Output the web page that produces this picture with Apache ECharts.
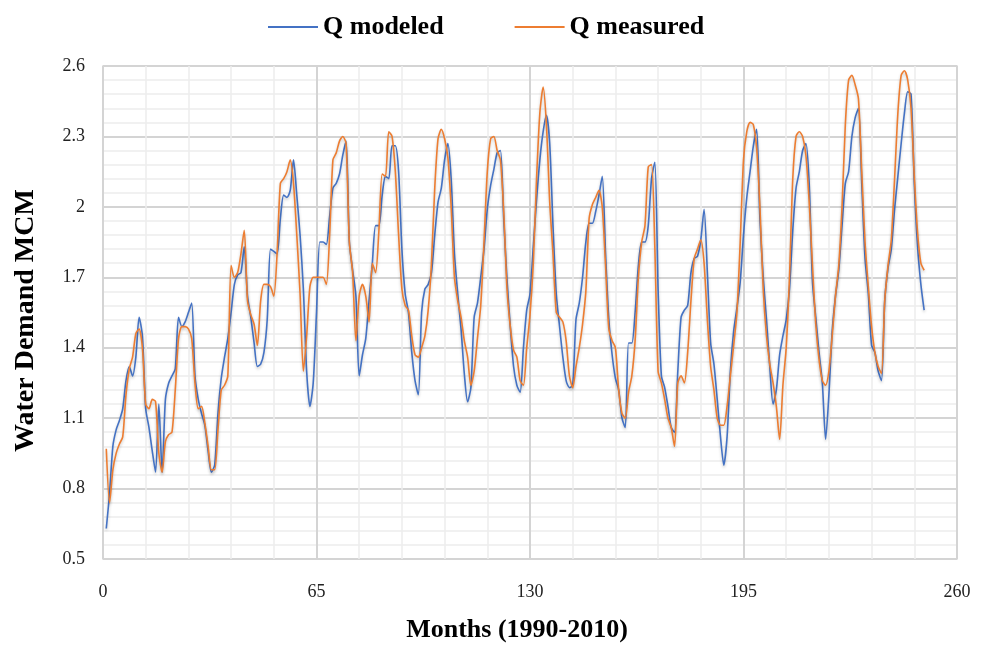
<!DOCTYPE html>
<html>
<head>
<meta charset="utf-8">
<script src="https://cdn.jsdelivr.net/npm/echarts@6/dist/echarts.min.js"></script>
<style>
  html, body { margin: 0; padding: 0; background: #fff; }
  #chart { width: 981px; height: 650px; }
</style>
</head>
<body>
<div id="chart"></div>
<script>
// months 1..250 (1990-2010)
const firstMonth = 1
const modeled = [
  0.63, 0.78, 0.98, 1.05, 1.09, 1.14, 1.26, 1.32, 1.28, 1.36,
  1.53, 1.45, 1.14, 1.06, 0.96, 0.87, 1.16, 0.87, 1.18, 1.25,
  1.28, 1.31, 1.53, 1.49, 1.51, 1.55, 1.59, 1.28, 1.18, 1.12,
  1.07, 0.96, 0.87, 0.90, 1.12, 1.27, 1.36, 1.44, 1.55, 1.67,
  1.71, 1.72, 1.83, 1.62, 1.53, 1.42, 1.32, 1.33, 1.38, 1.52,
  1.82, 1.81, 1.80, 1.95, 2.05, 2.04, 2.07, 2.20, 2.05, 1.88,
  1.65, 1.30, 1.15, 1.25, 1.55, 1.85, 1.85, 1.84, 1.96, 2.08,
  2.10, 2.14, 2.22, 2.28, 1.85, 1.73, 1.62, 1.28, 1.37, 1.44,
  1.60, 1.76, 1.92, 1.92, 2.05, 2.13, 2.12, 2.26, 2.26, 2.15,
  1.82, 1.63, 1.55, 1.38, 1.26, 1.20, 1.55, 1.65, 1.67, 1.72,
  1.88, 2.02, 2.08, 2.20, 2.27, 2.12, 1.80, 1.63, 1.48, 1.29,
  1.17, 1.23, 1.53, 1.59, 1.70, 1.82, 1.99, 2.09, 2.16, 2.23,
  2.24, 1.95, 1.69, 1.49, 1.32, 1.24, 1.21, 1.40, 1.56, 1.63,
  1.83, 2.03, 2.20, 2.32, 2.39, 2.27, 1.92, 1.63, 1.49, 1.36,
  1.26, 1.23, 1.24, 1.52, 1.59, 1.70, 1.85, 1.93, 1.93, 1.98,
  2.05, 2.13, 1.80, 1.52, 1.37, 1.27, 1.22, 1.10, 1.06, 1.42,
  1.42, 1.55, 1.75, 1.85, 1.85, 1.92, 2.12, 2.19, 1.65, 1.28,
  1.23, 1.15, 1.06, 1.04, 1.30, 1.53, 1.56, 1.58, 1.72, 1.78,
  1.79, 1.86, 1.99, 1.72, 1.42, 1.33, 1.18, 1.02, 0.90, 1.02,
  1.30, 1.47, 1.57, 1.68, 1.88, 2.04, 2.15, 2.26, 2.33, 1.95,
  1.70, 1.52, 1.32, 1.16, 1.22, 1.37, 1.45, 1.52, 1.65, 1.90,
  2.08, 2.15, 2.24, 2.27, 2.10, 1.68, 1.53, 1.38, 1.25, 1.01,
  1.20, 1.47, 1.62, 1.73, 1.92, 2.10, 2.15, 2.30, 2.38, 2.42,
  2.10, 1.78, 1.63, 1.41, 1.38, 1.30, 1.26, 1.60, 1.74, 1.82,
  1.99, 2.13, 2.27, 2.40, 2.49, 2.48, 2.10, 1.83, 1.67, 1.56
]
const measured = [
  0.97, 0.74, 0.88, 0.95, 0.99, 1.02, 1.20, 1.31, 1.36, 1.46,
  1.48, 1.40, 1.16, 1.14, 1.18, 1.17, 0.95, 0.87, 1.00, 1.03,
  1.04, 1.22, 1.44, 1.49, 1.49, 1.48, 1.44, 1.25, 1.14, 1.15,
  1.08, 0.98, 0.88, 0.88, 1.05, 1.22, 1.24, 1.28, 1.75, 1.70,
  1.72, 1.80, 1.90, 1.60, 1.54, 1.50, 1.41, 1.60, 1.67, 1.67,
  1.66, 1.62, 1.80, 2.10, 2.12, 2.15, 2.20, 2.10, 1.88, 1.63,
  1.30, 1.45, 1.66, 1.70, 1.70, 1.70, 1.70, 1.67, 1.88, 2.20,
  2.23, 2.28, 2.30, 2.27, 1.85, 1.72, 1.43, 1.62, 1.67, 1.62,
  1.51, 1.76, 1.72, 1.90, 2.14, 2.13, 2.32, 2.30, 2.15, 1.88,
  1.65, 1.58, 1.56, 1.45, 1.37, 1.36, 1.40, 1.45, 1.56, 1.76,
  2.08, 2.29, 2.33, 2.29, 2.21, 2.00, 1.70, 1.60, 1.53, 1.43,
  1.36, 1.24, 1.30, 1.44, 1.58, 1.85, 2.15, 2.29, 2.30, 2.24,
  2.20, 1.98, 1.65, 1.49, 1.39, 1.36, 1.26, 1.24, 1.40, 1.54,
  1.76, 2.12, 2.40, 2.51, 2.35, 2.02, 1.80, 1.55, 1.53, 1.51,
  1.43, 1.28, 1.23, 1.32, 1.40, 1.50, 1.64, 1.95, 2.01, 2.04,
  2.07, 2.00, 1.75, 1.48, 1.43, 1.40, 1.22, 1.12, 1.10, 1.21,
  1.28, 1.43, 1.70, 1.85, 1.92, 2.17, 2.18, 1.83, 1.30, 1.25,
  1.18, 1.10, 1.06, 0.98, 1.25, 1.28, 1.25, 1.38, 1.60, 1.78,
  1.82, 1.86, 1.76, 1.52, 1.32, 1.22, 1.10, 1.07, 1.07, 1.15,
  1.28, 1.41, 1.55, 1.85, 2.20, 2.32, 2.36, 2.35, 2.25, 2.00,
  1.65, 1.45, 1.33, 1.25, 1.15, 1.01, 1.24, 1.40, 1.70, 2.12,
  2.30, 2.32, 2.30, 2.22, 2.02, 1.75, 1.50, 1.35, 1.26, 1.24,
  1.30, 1.45, 1.62, 1.75, 2.00, 2.35, 2.54, 2.56, 2.52, 2.46,
  2.15, 1.85, 1.66, 1.49, 1.38, 1.32, 1.29, 1.60, 1.75, 1.86,
  2.12, 2.40, 2.56, 2.58, 2.54, 2.42, 2.13, 1.89, 1.76, 1.73
]
const seriesNames = ['Q modeled', 'Q measured']
const seriesColors = ['#4472C4', '#ED7D31']

const months = modeled.map((v, i) => firstMonth + i)

const serif = '"Liberation Serif", "Times New Roman", serif'

const chart = echarts.init(document.getElementById('chart'), null, { renderer: 'canvas' })

function makeSeries(name, values, color) {
  return {
    name: name,
    type: 'line',
    symbol: 'none',
    smooth: 0.25,
    data: months.map((m, i) => [m, values[i]]),
    lineStyle: {
      color: color,
      width: 1.6,
      shadowColor: 'rgba(0,0,0,0.22)',
      shadowBlur: 3,
      shadowOffsetY: 2
    },
    itemStyle: { color: color }
  }
}

const option = {
  backgroundColor: '#ffffff',
  animation: false,
  legend: {
    top: 9,
    left: 263,
    icon: 'rect',
    itemWidth: 50,
    itemHeight: 2,
    itemGap: 71,
    textStyle: { fontFamily: serif, fontWeight: 'bold', fontSize: 26, color: '#000' },
    data: seriesNames
  },
  grid: {
    left: 103,
    right: 24,
    top: 66,
    bottom: 91,
    show: true,
    borderColor: '#d9d9d9',
    borderWidth: 1.5
  },
  xAxis: {
    type: 'value',
    min: 0,
    max: 260,
    interval: 65,
    name: 'Months (1990-2010)',
    nameLocation: 'middle',
    nameGap: 58,
    nameTextStyle: {
      fontFamily: serif, fontWeight: 'bold', fontSize: 26, color: '#000',
      padding: [0, 26, 0, 0]
    },
    axisLine: { show: false },
    axisTick: { show: false },
    axisLabel: { margin: 24, fontFamily: serif, fontSize: 18, color: '#222' },
    splitLine: { show: true, lineStyle: { color: '#d4d4d4', width: 2 } },
    minorTick: { show: false, splitNumber: 5 },
    minorSplitLine: { show: true, lineStyle: { color: '#ededed', width: 1.5 } }
  },
  yAxis: {
    type: 'value',
    min: 0.5,
    max: 2.6,
    interval: 0.3,
    name: 'Water Demand MCM',
    nameLocation: 'middle',
    nameGap: 63,
    nameTextStyle: {
      fontFamily: serif, fontWeight: 'bold', fontSize: 28, color: '#000',
      padding: [0, 16, 0, 0]
    },
    axisLine: { show: false },
    axisTick: { show: false },
    axisLabel: { margin: 18, fontFamily: serif, fontSize: 18, color: '#222' },
    splitLine: { show: true, lineStyle: { color: '#d4d4d4', width: 2 } },
    minorTick: { show: false, splitNumber: 5 },
    minorSplitLine: { show: true, lineStyle: { color: '#ededed', width: 1.5 } }
  },
  series: [
    makeSeries(seriesNames[0], modeled, seriesColors[0]),
    makeSeries(seriesNames[1], measured, seriesColors[1])
  ]
}

chart.setOption(option)
</script>
</body>
</html>
